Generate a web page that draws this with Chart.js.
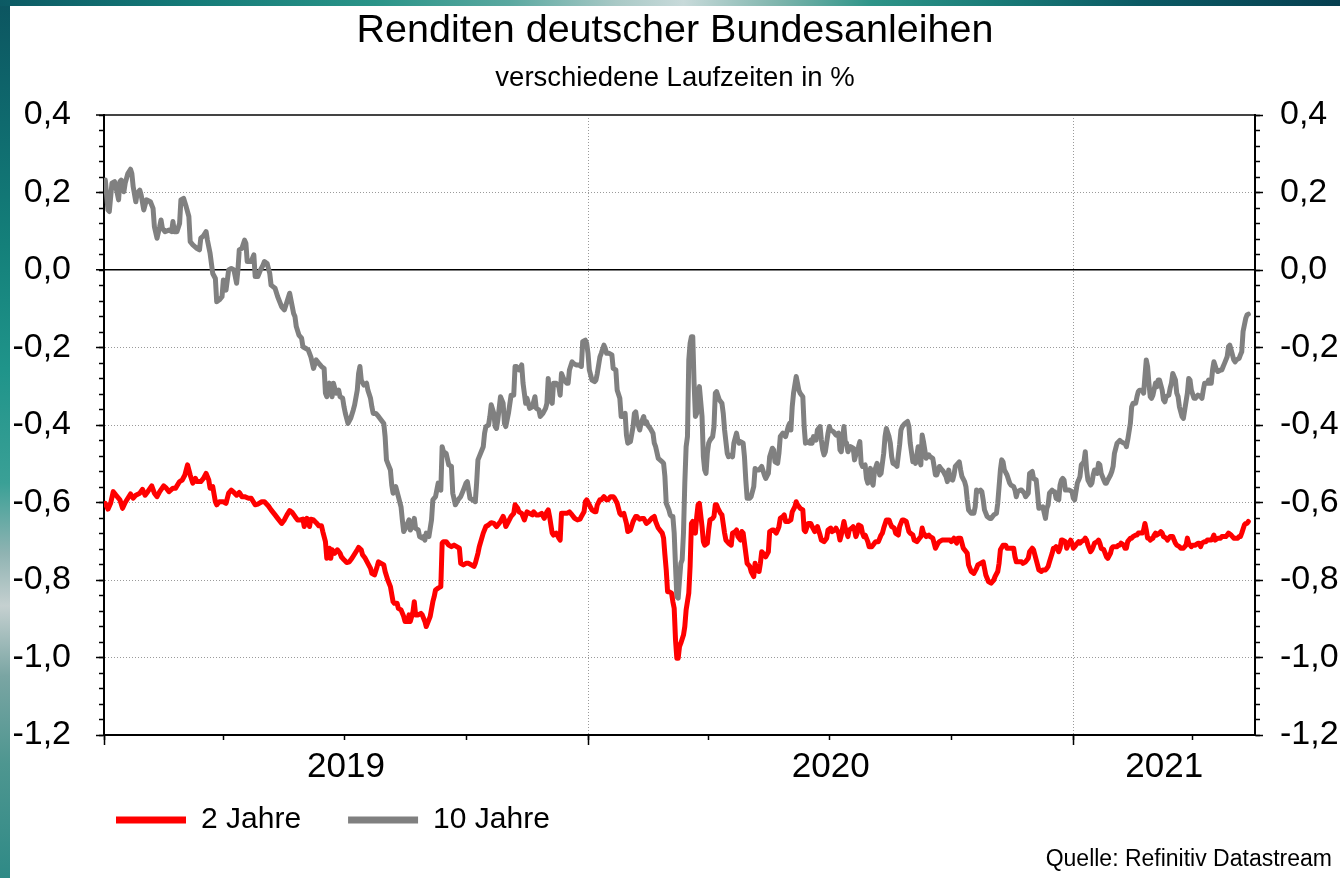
<!DOCTYPE html>
<html lang="de">
<head>
<meta charset="utf-8">
<title>Renditen deutscher Bundesanleihen</title>
<script src="https://cdn.jsdelivr.net/npm/chart.js@4.4.1/dist/chart.umd.min.js"></script>
<style>
  html, body { margin: 0; padding: 0; width: 1340px; height: 878px; overflow: hidden; background: #fff; }
  #leftband { position: absolute; left: 0; top: 0; width: 10px; height: 878px;
    background: linear-gradient(to bottom, #0c5560 0%, #0f6a6e 14%, #14807a 28%, #1f948a 42%, #3aa096 55%, #8fb3b2 63%, #c5d0d0 69%, #7aa5a3 77%, #4e9690 87%, #2f8a86 100%); }
  #topband { position: absolute; left: 0; top: 0; width: 1340px; height: 6px;
    background: linear-gradient(to right, #0c5a64 0%, #147a78 14%, #2a9488 28%, #5aa8a0 38%, #a9c9c6 46%, #c8dada 51%, #7fb5ad 58%, #2e9488 65%, #1a7c78 74%, #0b5a64 85%, #063f50 100%); }
  #wrap { position: absolute; left: 0; top: 0; width: 1340px; height: 878px; }
  #source { position: absolute; right: 8px; top: 846px; font: 23px "Liberation Sans", Arial, Helvetica, sans-serif; line-height: 24px; color: #000; }
</style>
</head>
<body>
<div id="leftband"></div>
<div id="topband"></div>
<div id="wrap"><canvas id="chart" width="1340" height="878"></canvas></div>
<div id="source"></div>
<script>
// ---------------- data ----------------
const TITLE = 'Renditen deutscher Bundesanleihen';
const SUBTITLE = 'verschiedene Laufzeiten in %';
const SOURCE = 'Quelle: Refinitiv Datastream';
const SERIES_NAMES = ['2 Jahre', '10 Jahre'];

// x values are days since 2019-01-01
const X_MAX = 868;                                   // right edge of the plot (~2021-05-19)
const YEAR_LABELS = ['2019', '2020', '2021'];
const YEAR_LABEL_DAYS = [182.5, 548, 799.5];         // centre of each (visible) year
const YEAR_START_DAYS = [0, 365, 731];               // 1 Jan 2019 / 2020 / 2021
const QUARTER_START_DAYS = [0, 90, 181, 273, 365, 456, 547, 639, 731, 821];
const Y_TICKS = [0.4, 0.2, 0, -0.2, -0.4, -0.6, -0.8, -1.0, -1.2];

// [day, yield in %]
const twoYear = [
[1,-0.602],[3,-0.617],[5,-0.602],[7,-0.572],[9,-0.581],[12,-0.593],[14,-0.615],[16,-0.600],[18,-0.589],[20,-0.578],
[22,-0.589],[24,-0.581],[27,-0.576],[29,-0.566],[31,-0.581],[33,-0.572],[36,-0.557],[38,-0.576],[40,-0.585],[42,-0.572],
[45,-0.557],[47,-0.563],[49,-0.572],[52,-0.563],[54,-0.563],[57,-0.546],[59,-0.542],[61,-0.529],[63,-0.503],[65,-0.529],
[67,-0.550],[69,-0.538],[70,-0.546],[73,-0.546],[75,-0.538],[77,-0.525],[79,-0.542],[80,-0.563],[82,-0.559],[84,-0.598],
[85,-0.606],[87,-0.598],[90,-0.598],[92,-0.602],[94,-0.576],[96,-0.568],[98,-0.574],[100,-0.581],[102,-0.574],[104,-0.585],
[106,-0.585],[109,-0.589],[111,-0.589],[114,-0.606],[116,-0.604],[119,-0.598],[121,-0.598],[124,-0.609],[126,-0.619],[129,-0.632],
[131,-0.641],[134,-0.654],[136,-0.645],[138,-0.632],[140,-0.621],
[142,-0.626],[144,-0.636],[146,-0.645],[148,-0.645],[150,-0.643],[151,-0.662],[153,-0.641],[155,-0.662],[156,-0.643],[158,-0.645],
[160,-0.652],[162,-0.660],[164,-0.660],[165,-0.675],[167,-0.701],[168,-0.744],[170,-0.718],[171,-0.744],[172,-0.722],[174,-0.731],
[176,-0.722],[178,-0.731],[179,-0.740],[181,-0.748],[183,-0.755],[185,-0.753],[187,-0.744],[189,-0.733],[191,-0.722],[192,-0.716],
[194,-0.722],[195,-0.735],[197,-0.744],[199,-0.757],[201,-0.770],[202,-0.783],[204,-0.787],[206,-0.765],[207,-0.753],[209,-0.757],
[211,-0.761],[212,-0.778],[214,-0.800],[216,-0.817],[218,-0.856],[219,-0.860],[221,-0.860],[222,-0.873],[224,-0.877],[226,-0.894],
[227,-0.907],[229,-0.907],[230,-0.890],[231,-0.907],[233,-0.882],[234,-0.856],[235,-0.890],[237,-0.890],[239,-0.886],[240,-0.890],
[242,-0.907],[243,-0.920],[245,-0.903],[246,-0.894],[248,-0.856],[249,-0.843],[250,-0.826],[252,-0.821],[254,-0.817],[255,-0.705],
[256,-0.701],[258,-0.701],[260,-0.710],[262,-0.714],[264,-0.710],[266,-0.714],[268,-0.718],[269,-0.757],[271,-0.761],[273,-0.757],
[275,-0.757],[277,-0.761],[279,-0.765],[280,-0.757],[282,-0.731],[283,-0.714],
[286,-0.679],[288,-0.662],[290,-0.658],[292,-0.652],[294,-0.654],[296,-0.662],[297,-0.658],[299,-0.649],[301,-0.636],[302,-0.645],
[303,-0.662],[305,-0.649],[307,-0.636],[309,-0.628],[310,-0.606],[312,-0.615],[313,-0.624],[315,-0.628],[317,-0.645],[319,-0.624],
[321,-0.628],[323,-0.632],[324,-0.624],[326,-0.632],[328,-0.632],[330,-0.628],[332,-0.641],[334,-0.624],[335,-0.619],[336,-0.636],
[338,-0.679],[339,-0.684],[341,-0.679],[343,-0.692],[344,-0.697],[345,-0.628],[347,-0.628],[349,-0.628],[351,-0.624],[353,-0.632],
[355,-0.641],[357,-0.645],[359,-0.643],[360,-0.636],[362,-0.624],[363,-0.598],[364,-0.593],[366,-0.606],[368,-0.619],[370,-0.624],
[371,-0.624],[372,-0.606],[374,-0.593],[375,-0.593],[377,-0.585],[379,-0.593],[380,-0.593],[382,-0.585],[384,-0.585],[385,-0.589],
[387,-0.602],[389,-0.628],[390,-0.632],[392,-0.628],[394,-0.654],[395,-0.675],[397,-0.671],[399,-0.649],[401,-0.636],[402,-0.636],
[404,-0.643],[406,-0.641],[407,-0.641],[409,-0.654],[411,-0.649],[413,-0.641],[415,-0.636],[416,-0.649],[418,-0.666],
[421,-0.679],[422,-0.692],[423,-0.735],[424,-0.774],[425,-0.830],[426,-0.830],[428,-0.834],[429,-0.856],[430,-0.873],[431,-0.955],
[432,-1.002],[433,-1.002],[434,-0.972],[435,-0.963],[437,-0.942],[438,-0.920],[439,-0.877],[441,-0.834],[442,-0.765],[443,-0.654],
[444,-0.649],[446,-0.679],[447,-0.636],[448,-0.606],[449,-0.602],[451,-0.662],[452,-0.701],[453,-0.710],[455,-0.705],[456,-0.671],
[457,-0.645],[459,-0.641],[460,-0.636],[461,-0.606],[462,-0.606],[463,-0.615],[465,-0.628],[466,-0.632],[468,-0.679],[469,-0.697],
[471,-0.705],[473,-0.710],[474,-0.679],[476,-0.675],[477,-0.671],[478,-0.688],[480,-0.697],[481,-0.675],[482,-0.679],[483,-0.705],
[485,-0.757],[486,-0.761],[487,-0.765],[488,-0.778],[490,-0.791],[491,-0.757],[492,-0.774],[494,-0.778],[495,-0.757],[496,-0.727],
[498,-0.735],[499,-0.740],[501,-0.727],[502,-0.675],[504,-0.671],[505,-0.671],[507,-0.679],[508,-0.671],[509,-0.662],[510,-0.641],
[512,-0.636],[513,-0.632],[514,-0.649],[516,-0.649],[518,-0.645],[519,-0.624],[521,-0.611],[522,-0.598],[523,-0.606],[525,-0.615],
[527,-0.619],[528,-0.671],[529,-0.675],[531,-0.654],[533,-0.654],[534,-0.662],[536,-0.675],[537,-0.671],[538,-0.662],[540,-0.684],
[541,-0.697],[543,-0.701],[545,-0.692],[546,-0.671],[548,-0.666],[549,-0.675],[551,-0.671],[552,-0.666],[554,-0.679],[555,-0.697],
[556,-0.684],[558,-0.649],[559,-0.666],[561,-0.688],[562,-0.671],
[564,-0.666],[565,-0.662],[566,-0.671],[567,-0.688],[568,-0.679],[569,-0.658],[571,-0.662],[572,-0.679],[573,-0.688],[574,-0.684],
[576,-0.701],[577,-0.714],[579,-0.714],[581,-0.705],[582,-0.701],[584,-0.701],[586,-0.684],[587,-0.679],[588,-0.666],[590,-0.645],
[592,-0.645],[593,-0.654],[594,-0.662],[596,-0.666],[597,-0.679],[599,-0.684],[600,-0.662],[602,-0.645],[603,-0.645],[605,-0.649],
[607,-0.675],[608,-0.679],[610,-0.684],[611,-0.697],[613,-0.701],[615,-0.692],[616,-0.688],[617,-0.666],[618,-0.679],[620,-0.688],
[622,-0.684],[623,-0.688],[625,-0.692],[626,-0.705],[627,-0.718],[629,-0.705],[630,-0.701],[632,-0.697],[634,-0.697],[636,-0.697],
[638,-0.697],[639,-0.701],[641,-0.692],[643,-0.705],[644,-0.692],[646,-0.692],[647,-0.705],[648,-0.718],[649,-0.722],[651,-0.731],
[652,-0.761],[654,-0.778],[656,-0.783],[658,-0.770],[659,-0.761],[661,-0.757],[663,-0.753],[664,-0.770],[665,-0.787],[667,-0.804],
[669,-0.808],[671,-0.800],[672,-0.791],[674,-0.778],[675,-0.757],[676,-0.722],[678,-0.710],[680,-0.710],[681,-0.718],[683,-0.718],
[685,-0.718],[686,-0.718],[687,-0.740],[688,-0.753],[690,-0.753],[692,-0.753],[693,-0.757],[695,-0.753],[697,-0.744],[698,-0.727],
[700,-0.718],[701,-0.722],[702,-0.735],[703,-0.748],[705,-0.774],
[707,-0.778],[708,-0.774],[710,-0.774],[711,-0.770],[712,-0.765],[713,-0.753],[715,-0.731],[716,-0.718],[717,-0.718],[718,-0.714],
[720,-0.727],[721,-0.718],[722,-0.697],[723,-0.697],[725,-0.701],[726,-0.718],[727,-0.710],[729,-0.697],[730,-0.705],[731,-0.718],
[732,-0.714],[734,-0.705],[735,-0.701],[736,-0.705],[737,-0.701],[739,-0.697],[740,-0.692],[741,-0.697],[742,-0.710],[744,-0.727],
[745,-0.722],[746,-0.714],[747,-0.705],[749,-0.701],[750,-0.697],[751,-0.705],[752,-0.718],[754,-0.722],[755,-0.731],[756,-0.740],
[757,-0.744],[759,-0.731],[760,-0.718],[761,-0.714],[762,-0.714],[764,-0.714],[765,-0.710],[766,-0.710],[767,-0.705],[769,-0.710],
[770,-0.718],[771,-0.718],[772,-0.701],[774,-0.692],[775,-0.692],[776,-0.688],[778,-0.684],[779,-0.684],[780,-0.679],[781,-0.679],
[783,-0.679],[784,-0.671],[785,-0.654],[786,-0.671],[787,-0.692],[788,-0.692],[789,-0.697],[791,-0.692],[792,-0.684],[793,-0.679],
[794,-0.684],[796,-0.679],[797,-0.675],[798,-0.679],[799,-0.688],[801,-0.692],[802,-0.697],[803,-0.692],[804,-0.688],[806,-0.688],
[807,-0.697],[808,-0.705],[809,-0.710],[811,-0.714],[812,-0.718],[813,-0.718],[814,-0.718],[816,-0.710],[817,-0.692],[818,-0.705],
[820,-0.714],[821,-0.710],[822,-0.710],[823,-0.710],[825,-0.705],[826,-0.705],[827,-0.714],[828,-0.705],[830,-0.701],[831,-0.701],
[832,-0.697],[833,-0.697],[835,-0.697],[836,-0.692],[837,-0.684],[838,-0.697],[840,-0.692],[841,-0.692],[842,-0.692],[843,-0.688],
[845,-0.688],[846,-0.688],[847,-0.684],[848,-0.679],[850,-0.684],[851,-0.688],[852,-0.692],[853,-0.692],[855,-0.692],[856,-0.688],
[857,-0.688],[858,-0.679],[860,-0.658],[861,-0.654],[862,-0.654],[863,-0.649]
];

const tenYear = [
[1,0.232],[3,0.155],[4,0.151],[6,0.224],[8,0.228],[10,0.198],[11,0.181],[12,0.228],[13,0.232],[15,0.202],
[16,0.224],[18,0.249],[20,0.260],[21,0.249],[22,0.215],[24,0.176],[25,0.198],[27,0.206],[28,0.194],[30,0.155],
[32,0.181],[35,0.176],[37,0.159],[38,0.112],[40,0.082],[42,0.112],[43,0.129],[44,0.108],[46,0.099],[49,0.103],
[51,0.099],[52,0.125],[53,0.099],[55,0.099],[57,0.120],[58,0.181],[60,0.185],[62,0.163],[64,0.138],[65,0.073],
[67,0.065],[70,0.056],[72,0.052],[73,0.082],[75,0.088],[77,0.099],[78,0.077],[80,0.043],[82,-0.009],[84,-0.022],
[85,-0.082],[87,-0.077],[89,-0.069],[90,-0.026],[92,-0.052],[94,0.000],[96,0.004],[98,0.000],[100,-0.034],[101,0.000],
[102,0.052],[104,0.056],[106,0.077],[107,0.069],[108,0.022],[111,0.022],[113,0.039],[114,-0.017],[116,-0.017],[118,0.000],
[120,0.013],[121,0.022],[123,0.017],[125,-0.009],[126,-0.039],[129,-0.047],[131,-0.069],[134,-0.095],[136,-0.103],[138,-0.082],
[140,-0.060],
[143,-0.112],[144,-0.120],[145,-0.146],[147,-0.168],[149,-0.176],[150,-0.198],[152,-0.202],[154,-0.206],[156,-0.224],[158,-0.254],
[160,-0.232],[162,-0.241],[164,-0.249],[166,-0.254],[167,-0.318],[168,-0.327],[170,-0.292],[172,-0.327],[173,-0.292],[175,-0.318],
[177,-0.310],[178,-0.327],[180,-0.331],[181,-0.353],[182,-0.370],[184,-0.396],[186,-0.383],[188,-0.361],[189,-0.348],[191,-0.310],
[192,-0.267],[193,-0.249],[194,-0.284],[196,-0.297],[198,-0.292],[199,-0.310],[201,-0.331],[202,-0.353],[203,-0.370],[205,-0.370],
[207,-0.378],[209,-0.387],[211,-0.396],[212,-0.430],[213,-0.490],[214,-0.499],[216,-0.516],[217,-0.555],[218,-0.576],[220,-0.559],
[222,-0.585],[224,-0.611],[225,-0.645],[226,-0.675],[228,-0.662],[230,-0.645],[231,-0.671],[233,-0.658],[234,-0.641],[235,-0.667],
[237,-0.671],[238,-0.688],[240,-0.692],[241,-0.688],[242,-0.697],[243,-0.679],[245,-0.688],[247,-0.645],[248,-0.593],[250,-0.585],
[251,-0.568],[252,-0.550],[254,-0.568],[255,-0.456],[256,-0.469],[258,-0.473],[260,-0.503],[262,-0.507],[263,-0.576],[265,-0.606],
[267,-0.593],[269,-0.585],[271,-0.568],[273,-0.550],[274,-0.546],[276,-0.589],[278,-0.593],[280,-0.598],[281,-0.550],[282,-0.490],
[286,-0.456],[287,-0.421],[288,-0.404],[290,-0.400],[291,-0.378],[292,-0.348],[294,-0.370],[295,-0.404],[296,-0.409],[297,-0.387],
[299,-0.327],[301,-0.344],[302,-0.396],[303,-0.404],[305,-0.370],[307,-0.323],[309,-0.323],[310,-0.249],[311,-0.249],[313,-0.258],
[315,-0.245],[316,-0.292],[318,-0.344],[319,-0.331],[321,-0.357],[323,-0.353],[325,-0.327],[326,-0.357],[328,-0.361],[329,-0.378],
[331,-0.370],[333,-0.357],[334,-0.344],[335,-0.280],[336,-0.327],[338,-0.344],[339,-0.292],[341,-0.292],[343,-0.301],[344,-0.323],
[345,-0.267],[347,-0.284],[349,-0.292],[350,-0.292],[351,-0.258],[353,-0.237],[354,-0.241],[356,-0.245],[358,-0.245],[360,-0.249],
[361,-0.185],[363,-0.181],[364,-0.189],[365,-0.215],[366,-0.258],[368,-0.284],[370,-0.288],[371,-0.284],[372,-0.267],[374,-0.224],
[375,-0.215],[377,-0.194],[378,-0.202],[379,-0.215],[381,-0.215],[383,-0.219],[384,-0.254],[386,-0.258],[387,-0.310],[389,-0.331],
[390,-0.378],[392,-0.378],[393,-0.370],[394,-0.426],[395,-0.447],[397,-0.443],[399,-0.404],[400,-0.370],[401,-0.366],[402,-0.391],
[404,-0.413],[405,-0.396],[407,-0.378],[408,-0.396],[409,-0.391],[410,-0.400],[412,-0.409],[414,-0.421],[415,-0.447],[416,-0.456],
[418,-0.486],
[421,-0.495],[422,-0.499],[423,-0.533],[424,-0.602],[426,-0.619],[427,-0.632],[428,-0.636],[429,-0.636],[430,-0.679],[431,-0.765],
[432,-0.843],[433,-0.847],[434,-0.800],[435,-0.757],[436,-0.748],[437,-0.679],[438,-0.550],[439,-0.456],[440,-0.430],[441,-0.232],
[442,-0.189],[443,-0.172],[444,-0.172],[445,-0.292],[446,-0.378],[447,-0.370],[448,-0.318],[449,-0.301],[451,-0.378],[452,-0.482],
[453,-0.516],[454,-0.525],[455,-0.473],[456,-0.447],[457,-0.439],[459,-0.430],[460,-0.404],[461,-0.318],[462,-0.314],[464,-0.335],
[466,-0.344],[467,-0.370],[468,-0.413],[470,-0.473],[471,-0.482],[473,-0.477],[474,-0.482],[475,-0.447],[477,-0.421],[478,-0.439],
[479,-0.447],[480,-0.443],[482,-0.447],[483,-0.482],[484,-0.542],[485,-0.589],[487,-0.589],[488,-0.585],[490,-0.559],[491,-0.512],
[492,-0.516],[494,-0.516],[496,-0.507],[498,-0.529],[499,-0.538],[501,-0.525],[502,-0.482],[504,-0.460],[505,-0.464],[506,-0.495],
[508,-0.499],[509,-0.473],[510,-0.430],[512,-0.421],[514,-0.430],[516,-0.404],[517,-0.396],[518,-0.413],[519,-0.353],[520,-0.318],
[522,-0.275],[523,-0.292],[524,-0.310],[525,-0.318],[527,-0.327],[528,-0.404],[529,-0.447],[530,-0.443],[532,-0.447],[533,-0.439],
[534,-0.447],[535,-0.430],[537,-0.439],[538,-0.413],[540,-0.404],[541,-0.439],[542,-0.464],[543,-0.477],[544,-0.469],[546,-0.421],
[547,-0.404],[548,-0.413],[550,-0.417],[552,-0.426],[554,-0.421],[555,-0.464],[556,-0.469],[558,-0.404],[559,-0.443],[560,-0.447],
[561,-0.469],
[563,-0.456],[565,-0.460],[566,-0.490],[568,-0.464],[569,-0.456],[570,-0.443],[571,-0.499],[572,-0.507],[574,-0.503],[575,-0.538],
[576,-0.550],[578,-0.512],[579,-0.546],[580,-0.555],[581,-0.520],[583,-0.499],[585,-0.529],[586,-0.525],[588,-0.473],[589,-0.430],
[590,-0.409],[592,-0.430],[593,-0.447],[594,-0.482],[595,-0.499],[597,-0.503],[598,-0.507],[600,-0.451],[601,-0.413],[602,-0.404],
[604,-0.396],[606,-0.391],[607,-0.404],[608,-0.447],[610,-0.495],[611,-0.486],[612,-0.499],[614,-0.456],[615,-0.490],[616,-0.503],
[617,-0.426],[618,-0.443],[620,-0.486],[622,-0.477],[623,-0.482],[625,-0.486],[626,-0.507],[627,-0.529],[628,-0.529],[630,-0.507],
[631,-0.512],[632,-0.516],[633,-0.520],[635,-0.533],[636,-0.546],[637,-0.516],[638,-0.538],[640,-0.542],[641,-0.529],[642,-0.507],
[643,-0.503],[645,-0.495],[646,-0.516],[647,-0.533],[649,-0.546],[650,-0.559],[651,-0.593],[652,-0.619],[654,-0.628],[656,-0.628],
[657,-0.611],[658,-0.568],[659,-0.572],[661,-0.568],[662,-0.572],[663,-0.593],[664,-0.619],[666,-0.636],[668,-0.641],[669,-0.641],
[671,-0.632],[673,-0.628],[674,-0.602],[676,-0.516],[677,-0.490],[678,-0.495],[679,-0.516],[681,-0.529],[683,-0.550],[684,-0.555],
[686,-0.559],[687,-0.568],[688,-0.585],[689,-0.572],[691,-0.568],[692,-0.568],[694,-0.576],[695,-0.585],[697,-0.576],[698,-0.525],
[700,-0.520],[701,-0.538],[703,-0.542],[704,-0.576],[705,-0.615],
[708,-0.611],[710,-0.641],[711,-0.615],[712,-0.606],[713,-0.576],[715,-0.568],[716,-0.572],[717,-0.572],[718,-0.589],[720,-0.593],
[721,-0.555],[722,-0.542],[723,-0.538],[724,-0.542],[725,-0.568],[726,-0.568],[728,-0.568],[730,-0.572],[731,-0.589],[732,-0.593],
[734,-0.550],[735,-0.542],[736,-0.533],[737,-0.503],[739,-0.495],[740,-0.469],[741,-0.516],[742,-0.542],[744,-0.555],[745,-0.550],
[746,-0.529],[747,-0.516],[749,-0.525],[750,-0.499],[751,-0.503],[752,-0.525],[754,-0.542],[755,-0.550],[756,-0.550],[757,-0.542],
[759,-0.529],[760,-0.520],[761,-0.507],[762,-0.473],[763,-0.460],[764,-0.447],[766,-0.440],[767,-0.443],[769,-0.447],[770,-0.447],
[771,-0.456],[772,-0.439],[774,-0.396],[775,-0.353],[776,-0.344],[778,-0.344],[779,-0.327],[780,-0.314],[781,-0.310],[783,-0.310],
[784,-0.318],[785,-0.275],[786,-0.232],[787,-0.249],[788,-0.292],[789,-0.327],[790,-0.331],[791,-0.323],[793,-0.292],[794,-0.301],
[795,-0.284],[796,-0.284],[798,-0.310],[799,-0.335],[800,-0.340],[801,-0.327],[803,-0.323],[804,-0.305],[805,-0.292],[806,-0.267],
[808,-0.284],[809,-0.318],[810,-0.327],[811,-0.353],[813,-0.378],[814,-0.383],[815,-0.361],[817,-0.318],[818,-0.280],[819,-0.284],
[820,-0.310],[822,-0.331],[823,-0.331],[824,-0.327],[825,-0.323],[827,-0.327],[828,-0.331],[829,-0.310],[830,-0.292],[832,-0.292],
[833,-0.284],[834,-0.292],[835,-0.292],[836,-0.258],[837,-0.237],[839,-0.258],[840,-0.262],[842,-0.258],[843,-0.258],[844,-0.249],
[845,-0.241],[847,-0.224],[848,-0.198],[849,-0.194],[850,-0.206],[852,-0.232],[853,-0.237],[854,-0.232],[856,-0.228],[857,-0.219],
[858,-0.211],[859,-0.159],[861,-0.125],[862,-0.116],[863,-0.114]
];

// ---------------- styling ----------------
const FONT = '"Liberation Sans", Arial, Helvetica, sans-serif';
const RED = '#ff0000';
const GREY = '#808080';
const GRID = '#9a9a9a';
Chart.defaults.font.family = FONT;
Chart.defaults.color = '#000';

document.getElementById('source').textContent = SOURCE;

const toPoints = arr => arr.map(p => ({ x: p[0], y: p[1] }));
const fmt = v => Number(v).toFixed(1).replace('.', ',');
const isVal = (c, v) => c && c.tick && Math.abs(c.tick.value - v) < 1e-9;

const minorTicks = {
  display: true, min: -1.2, max: 0.4,
  ticks: { display: false, stepSize: 0.04 },
  grid: { drawOnChartArea: false, drawTicks: true, tickLength: 5, tickColor: '#000', tickWidth: 1.5 },
  border: { display: false },
  afterFit: s => { s.width = 0; }
};

// legend sits a little below the year labels, starting 12px right of the plot's left edge
const LEGEND_GAP_BELOW_AXIS = 23;
const legendPlace = {
  id: 'legendPlace',
  afterLayout(chart) {
    const lg = chart.legend;
    if (!lg) return;
    const pad = lg.options.labels.padding;
    const h = lg.height;
    lg.left = chart.chartArea.left + 12 - pad;
    lg.top = chart.chartArea.bottom + LEGEND_GAP_BELOW_AXIS;
    lg.bottom = lg.top + h;
  }
};

new Chart(document.getElementById('chart'), {
  type: 'line',
  data: {
    datasets: [
      { label: SERIES_NAMES[0], data: toPoints(twoYear), borderColor: RED, backgroundColor: RED,
        borderWidth: 5, pointRadius: 0, tension: 0, borderJoinStyle: 'round', borderCapStyle: 'round',
        xAxisID: 'x', yAxisID: 'y' },
      { label: SERIES_NAMES[1], data: toPoints(tenYear), borderColor: GREY, backgroundColor: GREY,
        borderWidth: 5, pointRadius: 0, tension: 0, borderJoinStyle: 'round', borderCapStyle: 'round',
        xAxisID: 'x', yAxisID: 'y' }
    ]
  },
  plugins: [legendPlace],
  options: {
    responsive: false,
    animation: false,
    events: [],
    layout: { padding: { left: 10, right: 0, top: 0, bottom: 0 } },
    plugins: {
      title: { display: true, text: TITLE, color: '#000',
        font: { family: FONT, size: 39.5, weight: 'normal' }, padding: { top: 7, bottom: 0 } },
      subtitle: { display: true, text: SUBTITLE, color: '#000',
        font: { family: FONT, size: 27.5, weight: 'normal' }, padding: { top: 8, bottom: 19.6 } },
      legend: {
        position: 'bottom', align: 'start',
        labels: {
          color: '#000', font: { family: FONT, size: 30 }, boxWidth: 70, boxHeight: 7, padding: 47,
          generateLabels: chart => Chart.defaults.plugins.legend.labels.generateLabels(chart)
            .map(it => Object.assign(it, { fillStyle: it.strokeStyle, lineWidth: 0 }))
        }
      },
      tooltip: { enabled: false }
    },
    scales: {
      x: {
        type: 'linear', position: 'bottom', weight: 0, min: 0, max: X_MAX,
        afterBuildTicks: s => { s.ticks = QUARTER_START_DAYS.map(v => ({ value: v })); },
        afterFit: s => { s.height = 0; },
        ticks: { display: false },
        grid: { drawOnChartArea: false, tickLength: 5, tickColor: '#000', tickWidth: 1.5 },
        border: { display: true, color: '#000', width: 2 }
      },
      xMajor: {
        type: 'linear', position: 'bottom', weight: 1, min: 0, max: X_MAX,
        afterBuildTicks: s => { s.ticks = YEAR_START_DAYS.map(v => ({ value: v })); },
        afterFit: s => { s.height = 0; },
        ticks: { display: false },
        grid: { drawOnChartArea: true, lineWidth: 1,
          color: c => isVal(c, 0) ? 'rgba(0,0,0,0)' : GRID,
          tickLength: 10, tickColor: '#000', tickWidth: 1.5 },
        border: { display: false, dash: [1, 2] }
      },
      xYear: {
        type: 'linear', position: 'bottom', weight: 2, min: 0, max: X_MAX,
        afterBuildTicks: s => { s.ticks = YEAR_LABEL_DAYS.map(v => ({ value: v })); },
        afterFit: s => { s.height = 56; },
        ticks: { padding: 3, font: { size: 35 }, color: '#000', maxRotation: 0, autoSkip: false,
          callback: (v, i) => YEAR_LABELS[i] },
        grid: { display: false },
        border: { display: false }
      },
      y: {
        type: 'linear', position: 'left', weight: 1, min: -1.2, max: 0.4,
        afterBuildTicks: s => { s.ticks = Y_TICKS.map(v => ({ value: v })); },
        afterFit: s => { s.width = 94; },
        ticks: { callback: v => fmt(v), font: { size: 34 }, color: '#000', padding: 25, autoSkip: false },
        grid: {
          drawOnChartArea: true,
          color: c => isVal(c, 0) ? '#000' : isVal(c, 0.4) ? '#444' : isVal(c, -1.2) ? 'rgba(0,0,0,0)' : GRID,
          lineWidth: c => isVal(c, 0) ? 1.5 : isVal(c, 0.4) ? 2 : 1,
          tickLength: 8, tickColor: '#000', tickWidth: 1.5
        },
        border: { display: true, color: '#000', width: 2,
          dash: c => (isVal(c, 0) || isVal(c, 0.4)) ? [] : [1, 2] }
      },
      yMinor: Object.assign({ type: 'linear', position: 'left', weight: 0 }, minorTicks),
      y2: {
        type: 'linear', position: 'right', weight: 1, min: -1.2, max: 0.4,
        afterBuildTicks: s => { s.ticks = Y_TICKS.map(v => ({ value: v })); },
        afterFit: s => { s.width = 85; },
        ticks: { callback: v => fmt(v), font: { size: 34 }, color: '#000', padding: 17, autoSkip: false },
        grid: { drawOnChartArea: false, tickLength: 8, tickColor: '#000', tickWidth: 1.5 },
        border: { display: true, color: '#000', width: 2 }
      },
      y2Minor: Object.assign({ type: 'linear', position: 'right', weight: 0 }, minorTicks)
    }
  }
});
</script>
</body>
</html>
